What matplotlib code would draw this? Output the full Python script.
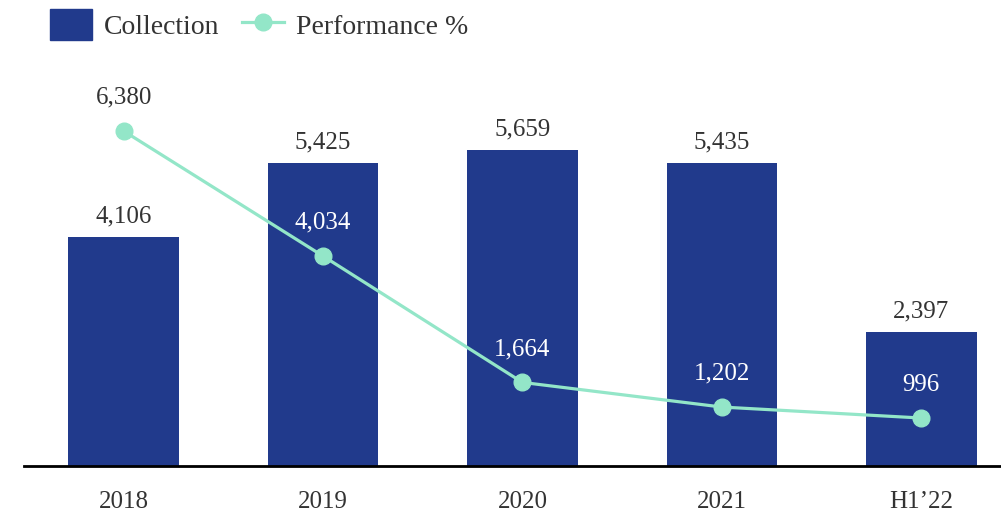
import numpy as np
import matplotlib.pyplot as plt
from matplotlib.lines import Line2D
from matplotlib.patches import Patch

# yearly figures
years = ['2018', '2019', '2020', '2021', 'H1\u201922']
collection = [4106, 5425, 5659, 5435, 2397]
performance = [6380, 4034, 1664, 1202, 996]

bar_color = '#213a8c'
line_color = '#93e6c8'
text_color = '#333333'

plt.rcParams['font.family'] = ['Liberation Serif', 'DejaVu Serif']

fig = plt.figure(figsize=(10.01, 5.17), dpi=100)
ax = fig.add_axes([24 / 1001, 51 / 517, 977 / 1001, 406 / 517])
ax2 = ax.twinx()

x = np.arange(len(years))
ax.bar(x, collection, width=0.555, color=bar_color, zorder=1)
ax.set_xlim(-0.5, 4.4)
ax.set_ylim(0, 7276)
ax2.set_ylim(96, 7713)

ax2.plot(x, performance, color=line_color, lw=2.3, marker='o', ms=12, zorder=3)

# bar value labels
for xi, v in zip(x, collection):
    ax.annotate(f'{v:,}', (xi, v), xytext=(0, 7), textcoords='offset points',
                ha='center', va='bottom', fontsize=18, color=text_color)

# line value labels, white when sitting on a bar
fig.canvas.draw()
for xi, v, b in zip(x, performance, collection):
    y_lab = ax2.transData.transform((xi, v))[1] + 38
    y_bar = ax.transData.transform((xi, b))[1]
    col = 'white' if y_lab < y_bar - 10 else text_color
    ax2.annotate(f'{v:,}', (xi, v), xytext=(0, 16), textcoords='offset points',
                 ha='center', va='bottom', fontsize=18, color=col)

for a in (ax, ax2):
    for s in ('top', 'right', 'left'):
        a.spines[s].set_visible(False)
    a.set_yticks([])
ax.spines['bottom'].set_linewidth(2)
ax.spines['bottom'].set_color('black')
ax.set_xticks(x)
ax.set_xticklabels(years, fontsize=18, color=text_color)
ax.tick_params(axis='x', length=0, pad=18)

handles = [Patch(color=bar_color),
           Line2D([0], [0], color=line_color, lw=2.3, marker='o', ms=12)]
fig.legend(handles, ['Collection', 'Performance %'], loc='upper left',
           bbox_to_anchor=(0.025, 1.03), ncol=2, frameon=False, fontsize=20,
           labelcolor=text_color, handlelength=1.5, handleheight=1.3,
           columnspacing=0.8, handletextpad=0.45)

fig.savefig('out.png', dpi=100)
